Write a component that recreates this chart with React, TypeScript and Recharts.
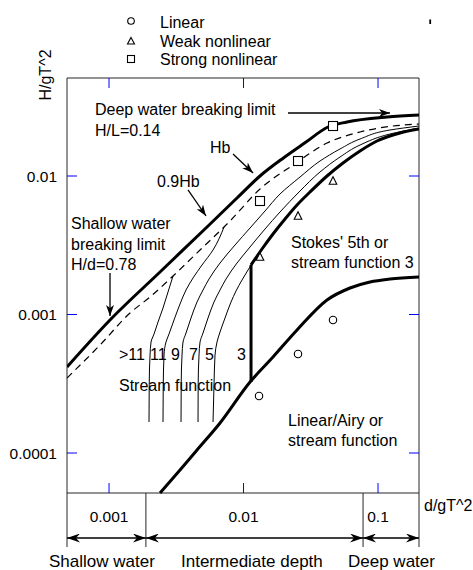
import React from 'react';
import { ComposedChart, Scatter, XAxis, YAxis, ReferenceLine } from 'recharts';

type P = [number, number];

// ---------- axes ----------
const X_DOMAIN: [number, number] = [0.000487, 0.2017];
const Y_DOMAIN: [number, number] = [0.00002096, 0.051];
const xTicks = [0.001, 0.01, 0.1];
const yTicks = [0.0001, 0.001, 0.01];
const FRAME_BOTTOM = 0.00005143; // lower edge of the H/gT^2 panel
const depthBounds = [0.00188, 0.0774]; // shallow / intermediate / deep limits
const BAND_ARROW_Y = 0.00002434;

// ---------- curves (d/gT^2, H/gT^2) ----------
const hbLimit: P[] = [
  [0.000487, 0.000418], [0.001017, 0.000913], [0.002394, 0.002027], [0.005353, 0.004283],
  [0.008946, 0.006937], [0.01326, 0.01], [0.0198, 0.0135], [0.02862, 0.01735], [0.04249, 0.02258],
  [0.05881, 0.02454], [0.1167, 0.02667], [0.2017, 0.02757],
];
const hb09: P[] = [
  [0.000487, 0.000348], [0.000857, 0.000602], [0.001432, 0.001025], [0.002018, 0.001338],
  [0.002991, 0.001897], [0.004749, 0.002922], [0.007937, 0.004733], [0.01326, 0.008056],
  [0.02334, 0.01201], [0.04177, 0.01731], [0.07348, 0.02078], [0.1293, 0.02296], [0.2017, 0.02374],
];
const sfOver11: P[] = [
  [0.001983, 0.0001674], [0.00199, 0.0003098], [0.002018, 0.00051], [0.002053, 0.000633],
  [0.002161, 0.0007232], [0.002314, 0.0008827], [0.00252, 0.001114], [0.002746, 0.001454],
  [0.002991, 0.001897],
];
const sf11: P[] = [
  [0.00252, 0.0001674], [0.00253, 0.0003098], [0.002564, 0.00051], [0.002653, 0.000633],
  [0.002793, 0.0007232], [0.003043, 0.0009126], [0.003372, 0.001191], [0.003737, 0.001503],
  [0.004212, 0.001835], [0.004914, 0.002277], [0.005932, 0.002922], [0.007162, 0.004283],
];
const sf9: P[] = [
  [0.00343, 0.0001674], [0.00344, 0.0003098], [0.003489, 0.00051], [0.00355, 0.000633],
  [0.003737, 0.0007353], [0.004071, 0.0009434], [0.004511, 0.001231], [0.004999, 0.001503],
  [0.00554, 0.001804], [0.006688, 0.002354], [0.008646, 0.003176], [0.01118, 0.004212],
  [0.01445, 0.005588], [0.01868, 0.007414], [0.02631, 0.009835], [0.03705, 0.01283],
  [0.05217, 0.01567], [0.07348, 0.0185], [0.1228, 0.02149], [0.2017, 0.02296],
];
const sf7: P[] = [
  [0.004589, 0.0001674], [0.0046, 0.0003098], [0.004668, 0.00051], [0.004749, 0.000633],
  [0.004999, 0.0007353], [0.005446, 0.0009434], [0.006034, 0.001231], [0.006688, 0.001503],
  [0.007411, 0.001804], [0.008946, 0.002354], [0.01118, 0.003072], [0.01445, 0.004143],
  [0.01868, 0.005497], [0.02631, 0.007793], [0.03705, 0.01069], [0.05217, 0.01371],
  [0.07348, 0.01674], [0.1228, 0.0201], [0.2017, 0.02221],
];
const sf5: P[] = [
  [0.005932, 0.0001674], [0.006034, 0.0003098], [0.006139, 0.00051], [0.006353, 0.000633],
  [0.006688, 0.0007476], [0.007286, 0.0009434], [0.008074, 0.001231], [0.008794, 0.001478],
  [0.009747, 0.001775], [0.0108, 0.002096], [0.01218, 0.002516],
];
const stokesLimit: P[] = [
  [0.01137, 0.002277], [0.01372, 0.002971], [0.01657, 0.003813], [0.02035, 0.004893],
  [0.02499, 0.006175], [0.03122, 0.007664], [0.04177, 0.01], [0.05492, 0.01241],
  [0.07348, 0.01515], [0.0983, 0.01789], [0.1457, 0.02044], [0.2017, 0.02184],
];
const stream3Limit: P[] = [[0.01137, 0.002277], [0.01137, 0.0003256]];
const linearLimit: P[] = [
  [0.002394, 0.00005143], [0.003372, 0.00007538], [0.004511, 0.0001051], [0.006688, 0.0001647],
  [0.01118, 0.0003256], [0.01657, 0.0004933], [0.02499, 0.0007728], [0.04177, 0.001273],
  [0.06192, 0.001554], [0.0872, 0.001717], [0.1228, 0.001804], [0.2017, 0.001865],
];

// ---------- sample points ----------
const seriesNames = ['Linear', 'Weak nonlinear', 'Strong nonlinear'];
const linearPts: P[] = [[0.01304, 0.000258], [0.02542, 0.0005186], [0.04628, 0.0009126]];
const weakPts: P[] = [[0.01326, 0.002601], [0.02542, 0.005143], [0.04628, 0.009202]];
const strongPts: P[] = [[0.01326, 0.006599], [0.02542, 0.01283], [0.04628, 0.02296]];

// ---------- annotation arrows ----------
const deepArrow: P[] = [[0.02142, 0.0285], [0.1228, 0.0285]];
const hbArrow: P[] = [[0.008355, 0.01442], [0.01177, 0.01051]];
const hb09Arrow: P[] = [[0.003867, 0.007925], [0.005262, 0.005143]];
const shallowArrow: P[] = [[0.001017, 0.001994], [0.001017, 0.0009754]];

const pts = (a: P[]) => a.map(([x, y]) => ({ x, y }));

const FONT = '"Liberation Sans", Arial, Helvetica, sans-serif';
const BLUE = '#0000ff';
const FRAME = '#262626';

const NoPoint = () => <g />;

const CircleShape = (p: any) => (
  <circle cx={p.cx} cy={p.cy} r={3.7} fill="#fff" stroke="#000" strokeWidth={1.1} />
);
const TriangleShape = (p: any) => (
  <path
    d={`M${p.cx},${p.cy - 4.2} L${p.cx + 3.8},${p.cy + 3.2} L${p.cx - 3.8},${p.cy + 3.2} Z`}
    fill="#fff" stroke="#000" strokeWidth={1.1}
  />
);
const SquareShape = (p: any) => (
  <rect x={p.cx - 4.5} y={p.cy - 4.5} width={9} height={9} fill="#fff" stroke="#000" strokeWidth={1.1} />
);

const BottomTick = (props: any) => {
  const { x, y, payload } = props;
  return (
    <g>
      <line x1={x} x2={x} y1={y - 54} y2={y - 64} stroke={BLUE} strokeWidth={1} />
      <text x={x} y={y - 25} textAnchor="middle" fontSize={15.5} fontFamily={FONT} fill="#000">
        {String(payload.value)}
      </text>
    </g>
  );
};
const TopTick = (props: any) => {
  const { x, y } = props;
  return <line x1={x} x2={x} y1={y} y2={y + 10} stroke={BLUE} strokeWidth={1} />;
};
const LeftTick = (props: any) => {
  const { x, y, payload } = props;
  return (
    <g>
      <line x1={x} x2={x + 10} y1={y} y2={y} stroke={BLUE} strokeWidth={1} />
      <text x={x - 10} y={y + 5.5} textAnchor="end" fontSize={15.5} fontFamily={FONT} fill="#000">
        {String(payload.value)}
      </text>
    </g>
  );
};
const RightTick = (props: any) => {
  const { x, y } = props;
  return <line x1={x} x2={x - 10} y1={y} y2={y} stroke={BLUE} strokeWidth={1} />;
};

const texts: { t: string; x: number; y: number; s?: number }[] = [
  { t: 'Deep water breaking limit', x: 95, y: 115 },
  { t: 'H/L=0.14', x: 95, y: 136 },
  { t: 'Hb', x: 210, y: 153 },
  { t: '0.9Hb', x: 157, y: 187 },
  { t: 'Shallow water', x: 71, y: 229 },
  { t: 'breaking limit', x: 71, y: 250 },
  { t: 'H/d=0.78', x: 71, y: 270 },
  { t: "Stokes' 5th or", x: 291, y: 248 },
  { t: 'stream function 3', x: 291, y: 268 },
  { t: '>11', x: 119, y: 360 },
  { t: '11', x: 150, y: 360 },
  { t: '9', x: 171, y: 360 },
  { t: '7', x: 189, y: 360 },
  { t: '5', x: 205, y: 360 },
  { t: '3', x: 237, y: 360 },
  { t: 'Stream function', x: 119, y: 391 },
  { t: 'Linear/Airy or', x: 288, y: 426 },
  { t: 'stream function', x: 288, y: 446 },
  { t: 'd/gT^2', x: 424, y: 511 },
  { t: 'Shallow water', x: 49, y: 567, s: 17 },
  { t: 'Intermediate depth', x: 181, y: 567, s: 17 },
  { t: 'Deep water', x: 348, y: 567, s: 17 },
];

const lineSeries = (data: P[], style: any, key: string, joint: string = 'linear') => (
  <Scatter
    key={key}
    xAxisId="b"
    yAxisId="l"
    data={pts(data)}
    shape={NoPoint}
    line={style}
    lineType="joint"
    lineJointType={joint as any}
    legendType="none"
    isAnimationActive={false}
  />
);

const thick = { stroke: '#000', strokeWidth: 3, strokeLinejoin: 'round' };
const thin = { stroke: '#000', strokeWidth: 1 };
const dashed = { stroke: '#000', strokeWidth: 1.2, strokeDasharray: '7 5' };
const arrowStyle = { stroke: '#000', strokeWidth: 1.3, markerEnd: 'url(#arrowHead)' };
const bandArrowStyle = {
  stroke: '#000', strokeWidth: 1.5,
  markerEnd: 'url(#bandHeadEnd)', markerStart: 'url(#bandHeadStart)',
};

export default function App() {
  const bands: P[][] = [
    [[X_DOMAIN[0], BAND_ARROW_Y], [depthBounds[0], BAND_ARROW_Y]],
    [[depthBounds[0], BAND_ARROW_Y], [depthBounds[1], BAND_ARROW_Y]],
    [[depthBounds[1], BAND_ARROW_Y], [X_DOMAIN[1], BAND_ARROW_Y]],
  ];
  return (
    <div style={{ position: 'absolute', left: 0, top: 0, width: 473, height: 570, background: '#fff' }}>
      <svg width={0} height={0} style={{ position: 'absolute' }}>
        <defs>
          <marker id="arrowHead" viewBox="0 0 11 8" refX="11" refY="4" markerWidth="11" markerHeight="8"
            markerUnits="userSpaceOnUse" orient="auto">
            <path d="M0,0 L11,4 L0,8 L3,4 Z" fill="#000" />
          </marker>
          <marker id="bandHeadEnd" viewBox="0 0 13 9" refX="13" refY="4.5" markerWidth="13" markerHeight="9"
            markerUnits="userSpaceOnUse" orient="auto">
            <path d="M0,0 L13,4.5 L0,9 L4,4.5 Z" fill="#000" />
          </marker>
          <marker id="bandHeadStart" viewBox="0 0 13 9" refX="13" refY="4.5" markerWidth="13" markerHeight="9"
            markerUnits="userSpaceOnUse" orient="auto-start-reverse">
            <path d="M0,0 L13,4.5 L0,9 L4,4.5 Z" fill="#000" />
          </marker>
        </defs>
      </svg>
      <ComposedChart
        width={473}
        height={570}
        margin={{ top: 77, right: 53, bottom: 22, left: 66 }}
      >
        <XAxis
          xAxisId="b" dataKey="x" type="number" scale="log" domain={X_DOMAIN} allowDataOverflow
          ticks={xTicks} interval={0} orientation="bottom" height={1} axisLine={false}
          tickLine={false} tickSize={0} tickMargin={0} tick={(p: any) => <BottomTick {...p} />}
        />
        <XAxis
          xAxisId="t" dataKey="x" type="number" scale="log" domain={X_DOMAIN} allowDataOverflow
          ticks={xTicks} interval={0} orientation="top" height={1}
          axisLine={{ stroke: FRAME, strokeWidth: 1 }}
          tickLine={false} tickSize={0} tickMargin={0} tick={(p: any) => <TopTick {...p} />}
        />
        <YAxis
          yAxisId="l" dataKey="y" type="number" scale="log" domain={Y_DOMAIN} allowDataOverflow
          ticks={yTicks} interval={0} orientation="left" width={1}
          axisLine={{ stroke: FRAME, strokeWidth: 1 }}
          tickLine={false} tickSize={0} tickMargin={0} tick={(p: any) => <LeftTick {...p} />}
        />
        <YAxis
          yAxisId="r" dataKey="y" type="number" scale="log" domain={Y_DOMAIN} allowDataOverflow
          ticks={yTicks} interval={0} orientation="right" width={1}
          axisLine={{ stroke: FRAME, strokeWidth: 1 }}
          tickLine={false} tickSize={0} tickMargin={0} tick={(p: any) => <RightTick {...p} />}
        />

        <ReferenceLine xAxisId="b" yAxisId="l" y={FRAME_BOTTOM} stroke={FRAME} strokeWidth={1} />
        {depthBounds.map((b) => (
          <ReferenceLine
            key={'db' + b}
            xAxisId="b"
            yAxisId="l"
            segment={[{ x: b, y: Y_DOMAIN[0] }, { x: b, y: FRAME_BOTTOM }]}
            stroke={FRAME}
            strokeWidth={1}
          />
        ))}
        {bands.map((b, i) => lineSeries(b, bandArrowStyle, 'band' + i))}

        {lineSeries(hb09, dashed, 'hb09', 'monotoneX')}
        {lineSeries(sfOver11, thin, 'sfo11', 'monotoneY')}
        {lineSeries(sf11, thin, 'sf11', 'monotoneY')}
        {lineSeries(sf9, thin, 'sf9', 'monotoneY')}
        {lineSeries(sf7, thin, 'sf7', 'monotoneY')}
        {lineSeries(sf5, thin, 'sf5', 'monotoneY')}
        {lineSeries(hbLimit, thick, 'hb', 'monotoneX')}
        {lineSeries(stokesLimit, thick, 'stokes', 'monotoneX')}
        {lineSeries(stream3Limit, thick, 'sf3')}
        {lineSeries(linearLimit, thick, 'linear', 'monotoneX')}

        {lineSeries(deepArrow, arrowStyle, 'a1')}
        {lineSeries(hbArrow, arrowStyle, 'a2')}
        {lineSeries(hb09Arrow, arrowStyle, 'a3')}
        {lineSeries(shallowArrow, arrowStyle, 'a4')}

        <Scatter name={seriesNames[0]} xAxisId="b" yAxisId="l" data={pts(linearPts)} shape={CircleShape} isAnimationActive={false} />
        <Scatter name={seriesNames[1]} xAxisId="b" yAxisId="l" data={pts(weakPts)} shape={TriangleShape} isAnimationActive={false} />
        <Scatter name={seriesNames[2]} xAxisId="b" yAxisId="l" data={pts(strongPts)} shape={SquareShape} isAnimationActive={false} />
      </ComposedChart>

      <svg
        width={473}
        height={570}
        style={{ position: 'absolute', left: 0, top: 0, pointerEvents: 'none' }}
        fontFamily={FONT}
      >
        {/* legend */}
        <circle cx={131} cy={21} r={3.3} fill="#fff" stroke="#000" strokeWidth={1.1} />
        <path d="M131,37.5 L134.5,44 L127.5,44 Z" fill="#fff" stroke="#000" strokeWidth={1.1} />
        <rect x={127.5} y={55.5} width={7} height={7} fill="#fff" stroke="#000" strokeWidth={1.1} />
        <text x={160} y={27.5} fontSize={16} fill="#000">{seriesNames[0]}</text>
        <text x={160} y={46.5} fontSize={16} fill="#000">{seriesNames[1]}</text>
        <text x={160} y={65} fontSize={16} fill="#000">{seriesNames[2]}</text>
        <rect x={429.3} y={19.5} width={1.8} height={4.5} fill="#000" />

        <text transform="translate(51,75) rotate(-90)" textAnchor="middle" fontSize={16} fill="#000">
          H/gT^2
        </text>
        {texts.map((d, i) => (
          <text key={i} x={d.x} y={d.y} fontSize={d.s ?? 16} fill="#000">
            {d.t}
          </text>
        ))}
      </svg>
    </div>
  );
}
